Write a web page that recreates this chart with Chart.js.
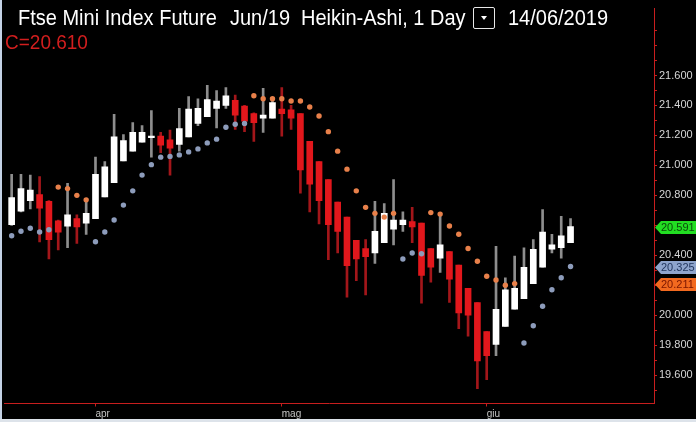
<!DOCTYPE html>
<html><head><meta charset="utf-8">
<script src="https://cdn.jsdelivr.net/npm/chart.js@4.4.1/dist/chart.umd.min.js"></script>
<style>
html,body{margin:0;padding:0;background:#000;width:696px;height:422px;overflow:hidden;}
#wrap{position:relative;width:696px;height:422px;}
canvas{position:absolute;left:0;top:0;}
.h{position:absolute;font-family:"Liberation Sans",Arial,sans-serif;white-space:nowrap;color:#fff;font-size:20px;top:6px;line-height:24px;transform:scaleY(1.06);transform-origin:0 50%;}
#box{position:absolute;left:473px;top:7px;width:20px;height:20px;border:1px solid #e8e8e8;border-radius:2px;}
#box:after{content:"";position:absolute;left:7px;top:8px;border-left:3.5px solid transparent;border-right:3.5px solid transparent;border-top:4px solid #fff;}
#cval{left:5px;top:31px;color:#d21e1e;font-size:19px;}
</style></head>
<body><div id="wrap">
<canvas id="c" width="696" height="422"></canvas>
<div class="h" style="left:18px">Ftse Mini Index Future</div>
<div class="h" style="left:230px">Jun/19</div>
<div class="h" style="left:301px">Heikin-Ashi, 1 Day</div>
<div id="box"></div>
<div class="h" style="left:508px">14/06/2019</div>
<div class="h" id="cval">C=20.610</div>
</div>
<script>
// Heikin-Ashi candles (index points), one per trading day
const openV  = [20605,20695,20765,20805,20760,20630,20595,20645,20615,20645,20790,20885,21030,21095,21155,21185,21195,21170,21140,21190,21280,21325,21380,21400,21435,21395,21345,21315,21315,21375,21370,21345,21160,21025,20905,20755,20655,20500,20445,20415,20485,20575,20605,20625,20615,20445,20380,20425,20335,20180,20085,19890,19805,19925,20040,20110,20210,20320,20440,20450,20485];
const highV  = [20940,20940,20935,20925,20765,20635,20880,20670,20760,21055,21025,21340,21205,21285,21265,21365,21220,21235,21380,21460,21445,21535,21500,21520,21470,21400,21350,21515,21445,21520,21400,21345,21160,21025,20905,20755,20655,20500,20505,20760,20745,20905,20690,20720,20615,20445,20675,20425,20335,20180,20085,19890,20460,20250,20395,20450,20505,20705,20540,20660,20645];
const lowV   = [20600,20690,20710,20490,20375,20435,20450,20480,20540,20645,20790,20885,21030,21095,21155,21055,21085,20935,21095,21190,21265,21325,21250,21380,21240,21225,21160,21220,21315,21195,21240,20815,20690,20610,20370,20415,20120,20230,20135,20345,20485,20470,20560,20485,20080,20220,20285,20085,19910,19860,19510,19570,19730,19925,20040,20110,20210,20320,20415,20380,20485];
const closeV = [20785,20845,20835,20715,20505,20555,20670,20590,20680,20940,20990,21190,21165,21220,21220,21190,21135,21115,21245,21375,21380,21440,21430,21465,21335,21295,21285,21335,21420,21345,21315,20970,20875,20765,20605,20560,20330,20375,20390,20560,20680,20635,20635,20590,20265,20320,20470,20240,20015,20000,19695,19730,20040,20170,20180,20320,20440,20555,20470,20530,20591];
// Parabolic SAR: below price (blue) / above price (orange)
const sarBelow = [20530,20560,20580,20555,20570,null,null,null,null,20490,20555,20635,20735,20830,20935,21005,21055,21060,21070,21090,21110,21150,21175,21255,21275,21280,null,null,null,null,null,null,null,null,null,null,null,null,null,null,null,null,20375,20415,20410,null,null,null,null,null,null,null,null,null,null,19815,19930,20060,20170,20250,20325];
const sarAbove = [null,null,null,null,null,20855,20845,20800,20770,null,null,null,null,null,null,null,null,null,null,null,null,null,null,null,null,null,21465,21445,21445,21445,21430,21430,21390,21330,21225,21095,20975,20830,20720,20680,20655,20680,null,null,null,20685,20675,20595,20540,20445,20360,20260,20235,20200,20211,null,null,null,null,null,null];
// Axis ticks
const priceTicks = [19500,19600,19700,19800,19900,20000,20100,20200,20300,20400,20500,20600,20700,20800,20900,21000,21100,21200,21300,21400,21500,21600,21700,21800,21900];
const priceLabelled = [19600,19800,20000,20400,20800,21000,21200,21400,21600];
const monthTicks = [9,29,51];
const monthLabels = ['apr','mag','giu'];

const fmt = v => { const r = Math.round(v); return Math.floor(r/1000) + '.' + String(r%1000).padStart(3,'0'); };
const idx = openV.map((_, i) => i);
const lastOf = arr => { for (let i = arr.length-1; i >= 0; i--) if (arr[i] != null) return arr[i]; return null; };
const tags = [
  {v: closeV[closeV.length-1], bg:'#22dd22', fg:'#0b4a0b'},
  {v: lastOf(sarBelow), bg:'#8ea4cc', fg:'#23375f'},
  {v: lastOf(sarAbove), bg:'#f2691f', fg:'#7a1600'}
];
const up = i => closeV[i] >= openV[i];

const framePlugin = {
  id:'frame',
  beforeDraw(chart){ const c=chart.ctx; c.save(); c.fillStyle='#000'; c.fillRect(0,0,chart.width,chart.height); c.restore(); },
  afterDraw(chart){
    const c = chart.ctx, ys = chart.scales.y;
    c.save();
    c.font = '11px "Liberation Sans", Arial, sans-serif';
    c.textBaseline = 'middle';
    tags.forEach(t => {
      const y = Math.round(ys.getPixelForValue(t.v)) + 0.5;
      c.fillStyle = t.bg;
      c.beginPath();
      c.moveTo(655, y); c.lineTo(661, y-6.5); c.lineTo(696, y-6.5); c.lineTo(696, y+6.5); c.lineTo(661, y+6.5); c.closePath();
      c.fill();
      c.fillStyle = t.fg;
      c.fillText(fmt(t.v), 661, y+0.5);
    });
    c.fillStyle = '#c4d2e6'; c.fillRect(0,0,2,419);
    c.fillStyle = '#dde3ea'; c.fillRect(0,419,696,3);
    c.restore();
  }
};

new Chart(document.getElementById('c'), {
  type: 'bar',
  data: {
    datasets: [
      { type:'line', label:'SAR up', data: idx.map(i => ({x:i, y:sarBelow[i]})), showLine:false,
        pointRadius:2.7, pointBackgroundColor:'#8d9cbb', pointBorderWidth:0, order:1 },
      { type:'line', label:'SAR down', data: idx.map(i => ({x:i, y:sarAbove[i]})), showLine:false,
        pointRadius:2.7, pointBackgroundColor:'#e8804a', pointBorderWidth:0, order:1 },
      { label:'body', data: idx.map(i => ({x:i, y:[Math.min(openV[i],closeV[i]), Math.max(openV[i],closeV[i])]})),
        backgroundColor: ctx => up(ctx.dataIndex) ? '#ffffff' : '#e2171c',
        barThickness:6, grouped:false, minBarLength:1.5, borderWidth:0, order:2 },
      { label:'wick', data: idx.map(i => ({x:i, y:[lowV[i], highV[i]]})),
        backgroundColor: ctx => up(ctx.dataIndex) ? '#8e8e8e' : '#a3161a',
        barThickness:2, grouped:false, borderWidth:0, order:3 }
    ]
  },
  options: {
    responsive:false, animation:false, devicePixelRatio:1,
    layout:{padding:0},
    plugins:{legend:{display:false}, tooltip:{enabled:false}, title:{display:false}},
    scales:{
      x:{ type:'linear', min:-0.822, max:68.96, offset:false,
          afterBuildTicks: s => { s.ticks = monthTicks.map(v => ({value:v})); },
          afterFit: s => { s.height = 18.5; },
          ticks:{ autoSkip:false, maxRotation:0, color:'#c4c4c4', padding:2, align:'start',
                  font:{family:'"Liberation Sans", Arial, sans-serif', size:10},
                  callback: v => monthLabels[monthTicks.indexOf(v)] },
          grid:{ display:true, drawOnChartArea:false, drawTicks:true, tickLength:3, color:'#c81e1e', offset:false },
          border:{ display:true, color:'#c81e1e', width:1 } },
      y:{ type:'linear', position:'right', min:19410.8, max:22046.4,
          afterBuildTicks: s => { s.ticks = priceTicks.map(v => ({value:v})); },
          afterFit: s => { s.width = 42; },
          ticks:{ autoSkip:false, color:'#d6d6d6', padding:2,
                  font:{family:'"Liberation Sans", Arial, sans-serif', size:11},
                  callback: v => priceLabelled.includes(v) ? fmt(v) : '' },
          grid:{ display:true, drawOnChartArea:false, drawTicks:true, tickLength:3, color:'#c81e1e' },
          border:{ display:true, color:'#c81e1e', width:1 } }
    }
  },
  plugins:[framePlugin]
});
</script>
</body></html>
